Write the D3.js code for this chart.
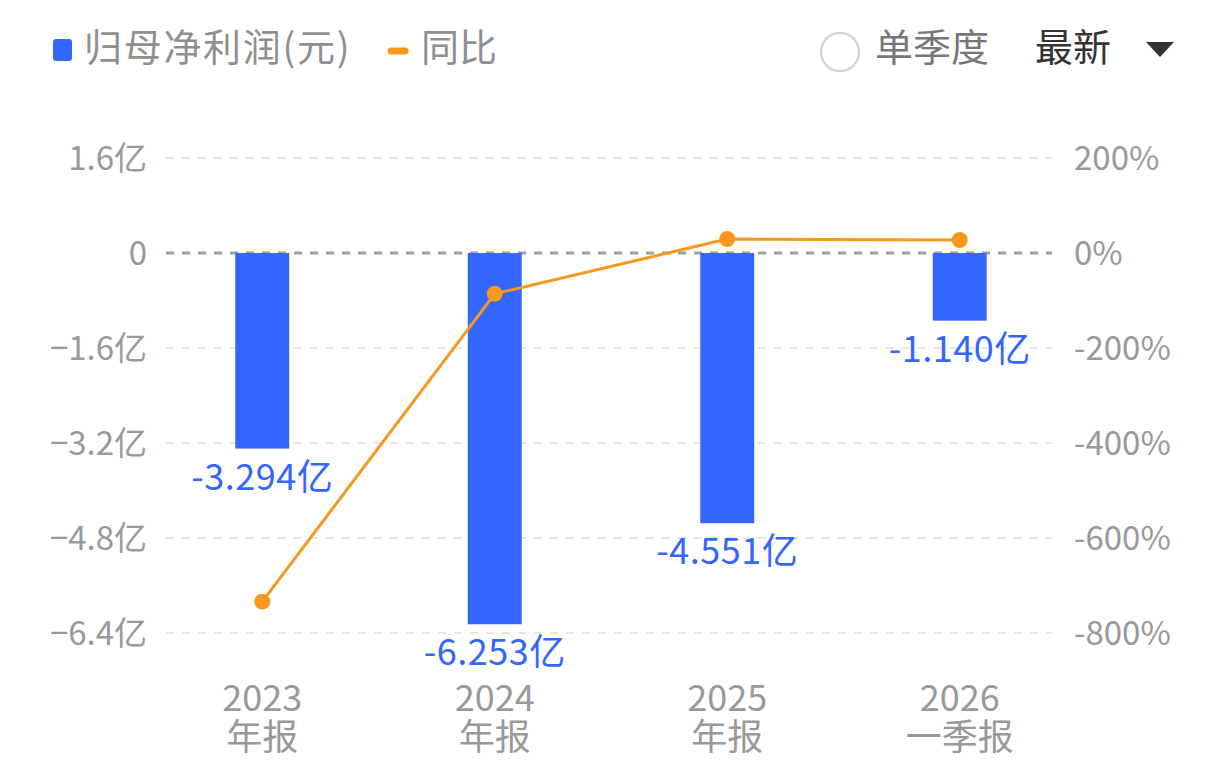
<!DOCTYPE html>
<html>
<head>
<meta charset="utf-8">
<script src="https://cdn.jsdelivr.net/npm/d3@7/dist/d3.min.js"></script>
<style>
  html, body { margin: 0; padding: 0; background: #fff; }
  svg { display: block; font-family: "Noto Sans CJK SC", "Noto Sans", sans-serif; }
</style>
</head>
<body>
<script>
// 报告期 (两行显示)
var periods = ['2023年报', '2024年报', '2025年报', '2026一季报'];
var periodYear = ['2023', '2024', '2025', '2026'];
var periodType = ['年报', '年报', '年报', '一季报'];
// 归母净利润 (亿元)
var profit = [-3.294, -6.253, -4.551, -1.140];
// 同比 (%)
var yoy = [-734, -86, 29.5, 27.4];
// 刻度
var leftTicks = [1.6, 0, -1.6, -3.2, -4.8, -6.4];
var rightTicks = [200, 0, -200, -400, -600, -800];

var W = 1224, H = 784;
var blue = '#3366ff', orange = '#f7981d', grey = '#999';

var svg = d3.select('body').append('svg').attr('width', W).attr('height', H);

var x = d3.scaleBand().domain(periods).range([146, 1076]).paddingInner(0.768).paddingOuter(0.384);
var yL = d3.scaleLinear().domain([-6.4, 1.6]).range([633, 158]);
var yR = d3.scaleLinear().domain([-800, 200]).range([633, 158]);

// 网格线
var grid = svg.append('g');
grid.selectAll('line').data(leftTicks).enter().append('line')
	.attr('x1', 166).attr('x2', 1052)
	.attr('y1', d => yL(d)).attr('y2', d => yL(d))
	.attr('stroke', d => d === 0 ? '#a0a0a0' : '#e6e6e6')
	.attr('stroke-width', d => d === 0 ? 3 : 2)
	.attr('stroke-dasharray', '8 8');

// 左轴
var leftAxis = d3.axisLeft(yL).tickValues(leftTicks).tickSize(0).tickPadding(0)
	.tickFormat(d => d === 0 ? '0' : d3.format('.1f')(d) + '亿');
var gL = svg.append('g').attr('transform', 'translate(147,0)').call(leftAxis);
gL.select('.domain').remove();
gL.selectAll('text').attr('fill', grey).attr('font-size', 33).attr('dy', '0.35em')
	.attr('font-family', '"Noto Sans CJK SC", sans-serif');

// 右轴
var rightAxis = d3.axisRight(yR).tickValues(rightTicks).tickSize(0).tickPadding(0)
	.tickFormat(d => d + '%');
var gR = svg.append('g').attr('transform', 'translate(1074,0)').call(rightAxis);
gR.select('.domain').remove();
gR.selectAll('text').attr('fill', grey).attr('font-size', 33).attr('dy', '0.35em')
	.attr('font-family', '"Noto Sans CJK SC", sans-serif');

// 柱
svg.append('g').selectAll('rect').data(profit).enter().append('rect')
	.attr('x', (d, i) => x(periods[i]))
	.attr('width', x.bandwidth())
	.attr('y', d => yL(Math.max(0, d)))
	.attr('height', d => Math.abs(yL(d) - yL(0)))
	.attr('fill', blue);

// 数值标签
svg.append('g').selectAll('text').data(profit).enter().append('text')
	.attr('x', (d, i) => x(periods[i]) + x.bandwidth() / 2)
	.attr('y', d => yL(d) + 41)
	.attr('text-anchor', 'middle')
	.attr('fill', blue)
	.attr('font-size', 36)
	.attr('letter-spacing', 0.5)
	.text(d => d.toFixed(3) + '亿');

// 同比折线
var line = d3.line().x((d, i) => x(periods[i]) + x.bandwidth() / 2).y(d => yR(d));
svg.append('path').datum(yoy).attr('d', line)
	.attr('fill', 'none').attr('stroke', orange).attr('stroke-width', 3);
svg.append('g').selectAll('circle').data(yoy).enter().append('circle')
	.attr('cx', (d, i) => x(periods[i]) + x.bandwidth() / 2)
	.attr('cy', d => yR(d))
	.attr('r', 8)
	.attr('fill', orange);

// X 轴标签
var xl = svg.append('g').selectAll('text').data(periods).enter().append('text')
	.attr('x', d => x(d) + x.bandwidth() / 2)
	.attr('text-anchor', 'middle')
	.attr('fill', grey)
	.attr('font-size', 36);
xl.append('tspan').attr('x', d => x(d) + x.bandwidth() / 2).attr('y', 711).text((d, i) => periodYear[i]);
xl.append('tspan').attr('x', d => x(d) + x.bandwidth() / 2).attr('y', 750).text((d, i) => periodType[i]);

// 图例
svg.append('rect').attr('x', 53).attr('y', 39).attr('width', 19).attr('height', 22).attr('rx', 3).attr('fill', blue);
svg.append('text').attr('x', 84).attr('y', 61).attr('font-size', 38).attr('letter-spacing', 1.7)
	.attr('fill', '#8f8f8f').text('归母净利润(元)');
svg.append('line').attr('x1', 391).attr('x2', 405).attr('y1', 51).attr('y2', 51)
	.attr('stroke', orange).attr('stroke-width', 7).attr('stroke-linecap', 'round');
svg.append('text').attr('x', 421).attr('y', 61).attr('font-size', 38).attr('fill', '#8f8f8f').text('同比');

// 右上控件
svg.append('circle').attr('cx', 840).attr('cy', 52).attr('r', 19)
	.attr('fill', '#fff').attr('stroke', '#cfcfcf').attr('stroke-width', 2);
svg.append('text').attr('x', 875).attr('y', 61).attr('font-size', 38).attr('fill', '#777').text('单季度');
svg.append('text').attr('x', 1035).attr('y', 61).attr('font-size', 38).attr('fill', '#333').text('最新');
svg.append('path').attr('d', 'M1146,42 L1174,42 L1160,57 Z').attr('fill', '#333');
</script>
</body>
</html>
